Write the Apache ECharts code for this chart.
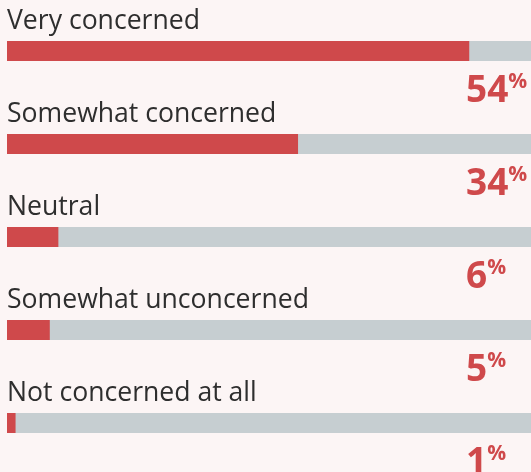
<!DOCTYPE html>
<html>
<head>
<meta charset="utf-8">
<script src="https://cdn.jsdelivr.net/npm/echarts@6/dist/echarts.min.js"></script>
<style>
  html, body { margin: 0; padding: 0; background: #fcf5f5; }
  #chart { width: 531px; height: 472px; }
</style>
</head>
<body>
<div id="chart"></div>
<script>
// Survey responses: level of concern, share of respondents (%)
const categories = [
  'Very concerned',
  'Somewhat concerned',
  'Neutral',
  'Somewhat unconcerned',
  'Not concerned at all'
];
const shares = [54, 34, 6, 5, 1];

const RED = '#cf494b';
const TRACK = '#c6ced1';
const TEXT = '#2e2e2e';
const FONT = '"Open Sans", "Noto Sans", sans-serif';

const chart = echarts.init(document.getElementById('chart'), null, { renderer: 'canvas' });

chart.setOption({
  backgroundColor: '#fcf5f5',
  animation: false,
  // the 0-100 % track runs past the right edge of the view
  grid: { left: 7, top: 4.5, width: 856, height: 465, containLabel: false, outerBoundsMode: 'none' },
  xAxis: { type: 'value', min: 0, max: 100, show: false },
  yAxis: {
    type: 'category',
    data: categories,
    inverse: true,
    show: false
  },
  series: [
    {
      // share bars on a full-width grey track, category name above
      type: 'bar',
      data: shares,
      barWidth: 20,
      showBackground: true,
      backgroundStyle: { color: TRACK },
      itemStyle: { color: RED },
      label: {
        show: true,
        formatter: '{b}',
        position: [0, -6],
        align: 'left',
        verticalAlign: 'bottom',
        fontFamily: FONT,
        fontSize: 26.6,
        lineHeight: 27,
        color: TEXT
      },
      z: 2
    },
    {
      // percentage values below each bar
      type: 'bar',
      data: shares,
      barWidth: 20,
      barGap: '-100%',
      itemStyle: { color: 'rgba(0,0,0,0)' },
      label: {
        show: true,
        formatter: p => '{n|' + p.value + '}{p|%}',
        position: [459, 31],
        align: 'left',
        verticalAlign: 'top',
        rich: {
          n: { fontFamily: FONT, fontSize: 37, fontWeight: 'bold', color: RED, lineHeight: 38 },
          p: { fontFamily: FONT, fontSize: 21, fontWeight: 'bold', color: RED, lineHeight: 38, verticalAlign: 'top' }
        }
      },
      z: 3
    }
  ]
});
</script>
</body>
</html>
